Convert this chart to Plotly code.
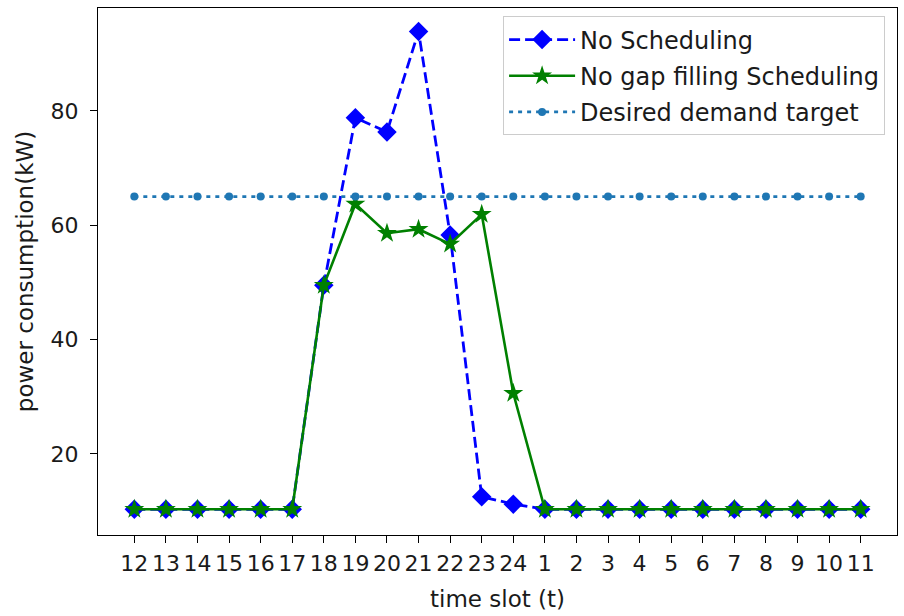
import plotly.graph_objects as go

time_slots = ["12", "13", "14", "15", "16", "17", "18", "19", "20", "21", "22", "23",
              "24", "1", "2", "3", "4", "5", "6", "7", "8", "9", "10", "11"]
no_scheduling = [10.3, 10.3, 10.3, 10.3, 10.3, 10.3, 49.5, 78.8, 76.3, 93.9, 58.3, 12.5,
                 11.2, 10.3, 10.3, 10.3, 10.3, 10.3, 10.3, 10.3, 10.3, 10.3, 10.3, 10.3]
no_gap_filling = [10.3, 10.3, 10.3, 10.3, 10.3, 10.3, 49.5, 63.7, 58.6, 59.3, 56.7, 61.9,
                  30.6, 10.3, 10.3, 10.3, 10.3, 10.3, 10.3, 10.3, 10.3, 10.3, 10.3, 10.3]
target_value = 65.0
desired_target = [target_value] * len(time_slots)
y_ticks = [20, 40, 60, 80]

FONT = "DejaVu Sans"
TXT = "#1a1a1a"

fig = go.Figure()
fig.add_trace(go.Scatter(
    x=time_slots, y=no_scheduling, name="No Scheduling", mode="lines+markers",
    legendgroup="a",
    line=dict(color="#0000ff", width=2.8, dash="11px,5px"),
    marker=dict(symbol="diamond", size=15, color="#0000ff"),
))
fig.add_trace(go.Scatter(
    x=time_slots, y=no_gap_filling, name="No gap filling Scheduling", mode="lines+markers",
    legendgroup="b",
    line=dict(color="#008000", width=2.6),
    marker=dict(symbol="star", size=15, color="#008000"),
))
fig.add_trace(go.Scatter(
    x=time_slots, y=desired_target, name="Desired demand target", mode="lines+markers",
    legendgroup="c",
    line=dict(color="#1f77b4", width=2.8, dash="4px,5px"),
    marker=dict(symbol="circle", size=8, color="#1f77b4"),
))

fig.update_layout(
    width=904, height=616,
    margin=dict(l=98, r=7, t=8, b=81, autoexpand=False),
    paper_bgcolor="white", plot_bgcolor="white",
    font=dict(family=FONT, size=22, color=TXT),
    showlegend=True,
    legend=dict(
        x=0.507, y=0.984, xanchor="left", yanchor="top",
        bgcolor="rgba(255,255,255,0.8)", bordercolor="#cccccc", borderwidth=1,
        font=dict(family=FONT, size=24, color=TXT),
        tracegroupgap=2, itemwidth=66,
    ),
)
fig.update_xaxes(
    type="category", range=[-1.15, 24.15], automargin=False,
    showgrid=False, zeroline=False,
    showline=True, linecolor="black", linewidth=1.3, mirror=True,
    ticks="outside", ticklen=7, tickwidth=1.3, tickcolor="black",
    ticklabelstandoff=1,
    tickfont=dict(family=FONT, size=22, color=TXT),
    title=dict(text="time slot (t)", font=dict(family=FONT, size=23, color=TXT), standoff=16),
)
fig.update_yaxes(
    range=[5.8, 98.0], tickvals=y_ticks, automargin=False,
    showgrid=False, zeroline=False,
    showline=True, linecolor="black", linewidth=1.3, mirror=True,
    ticks="outside", ticklen=7, tickwidth=1.3, tickcolor="black",
    ticklabelstandoff=7,
    tickfont=dict(family=FONT, size=22, color=TXT),
    title=dict(text="power consumption(kW)", font=dict(family=FONT, size=23, color=TXT), standoff=10),
)

fig.write_html(
    "out.html",
    config={"displayModeBar": False},
    post_script="document.body.style.margin='0';document.body.style.overflow='hidden';",
)
